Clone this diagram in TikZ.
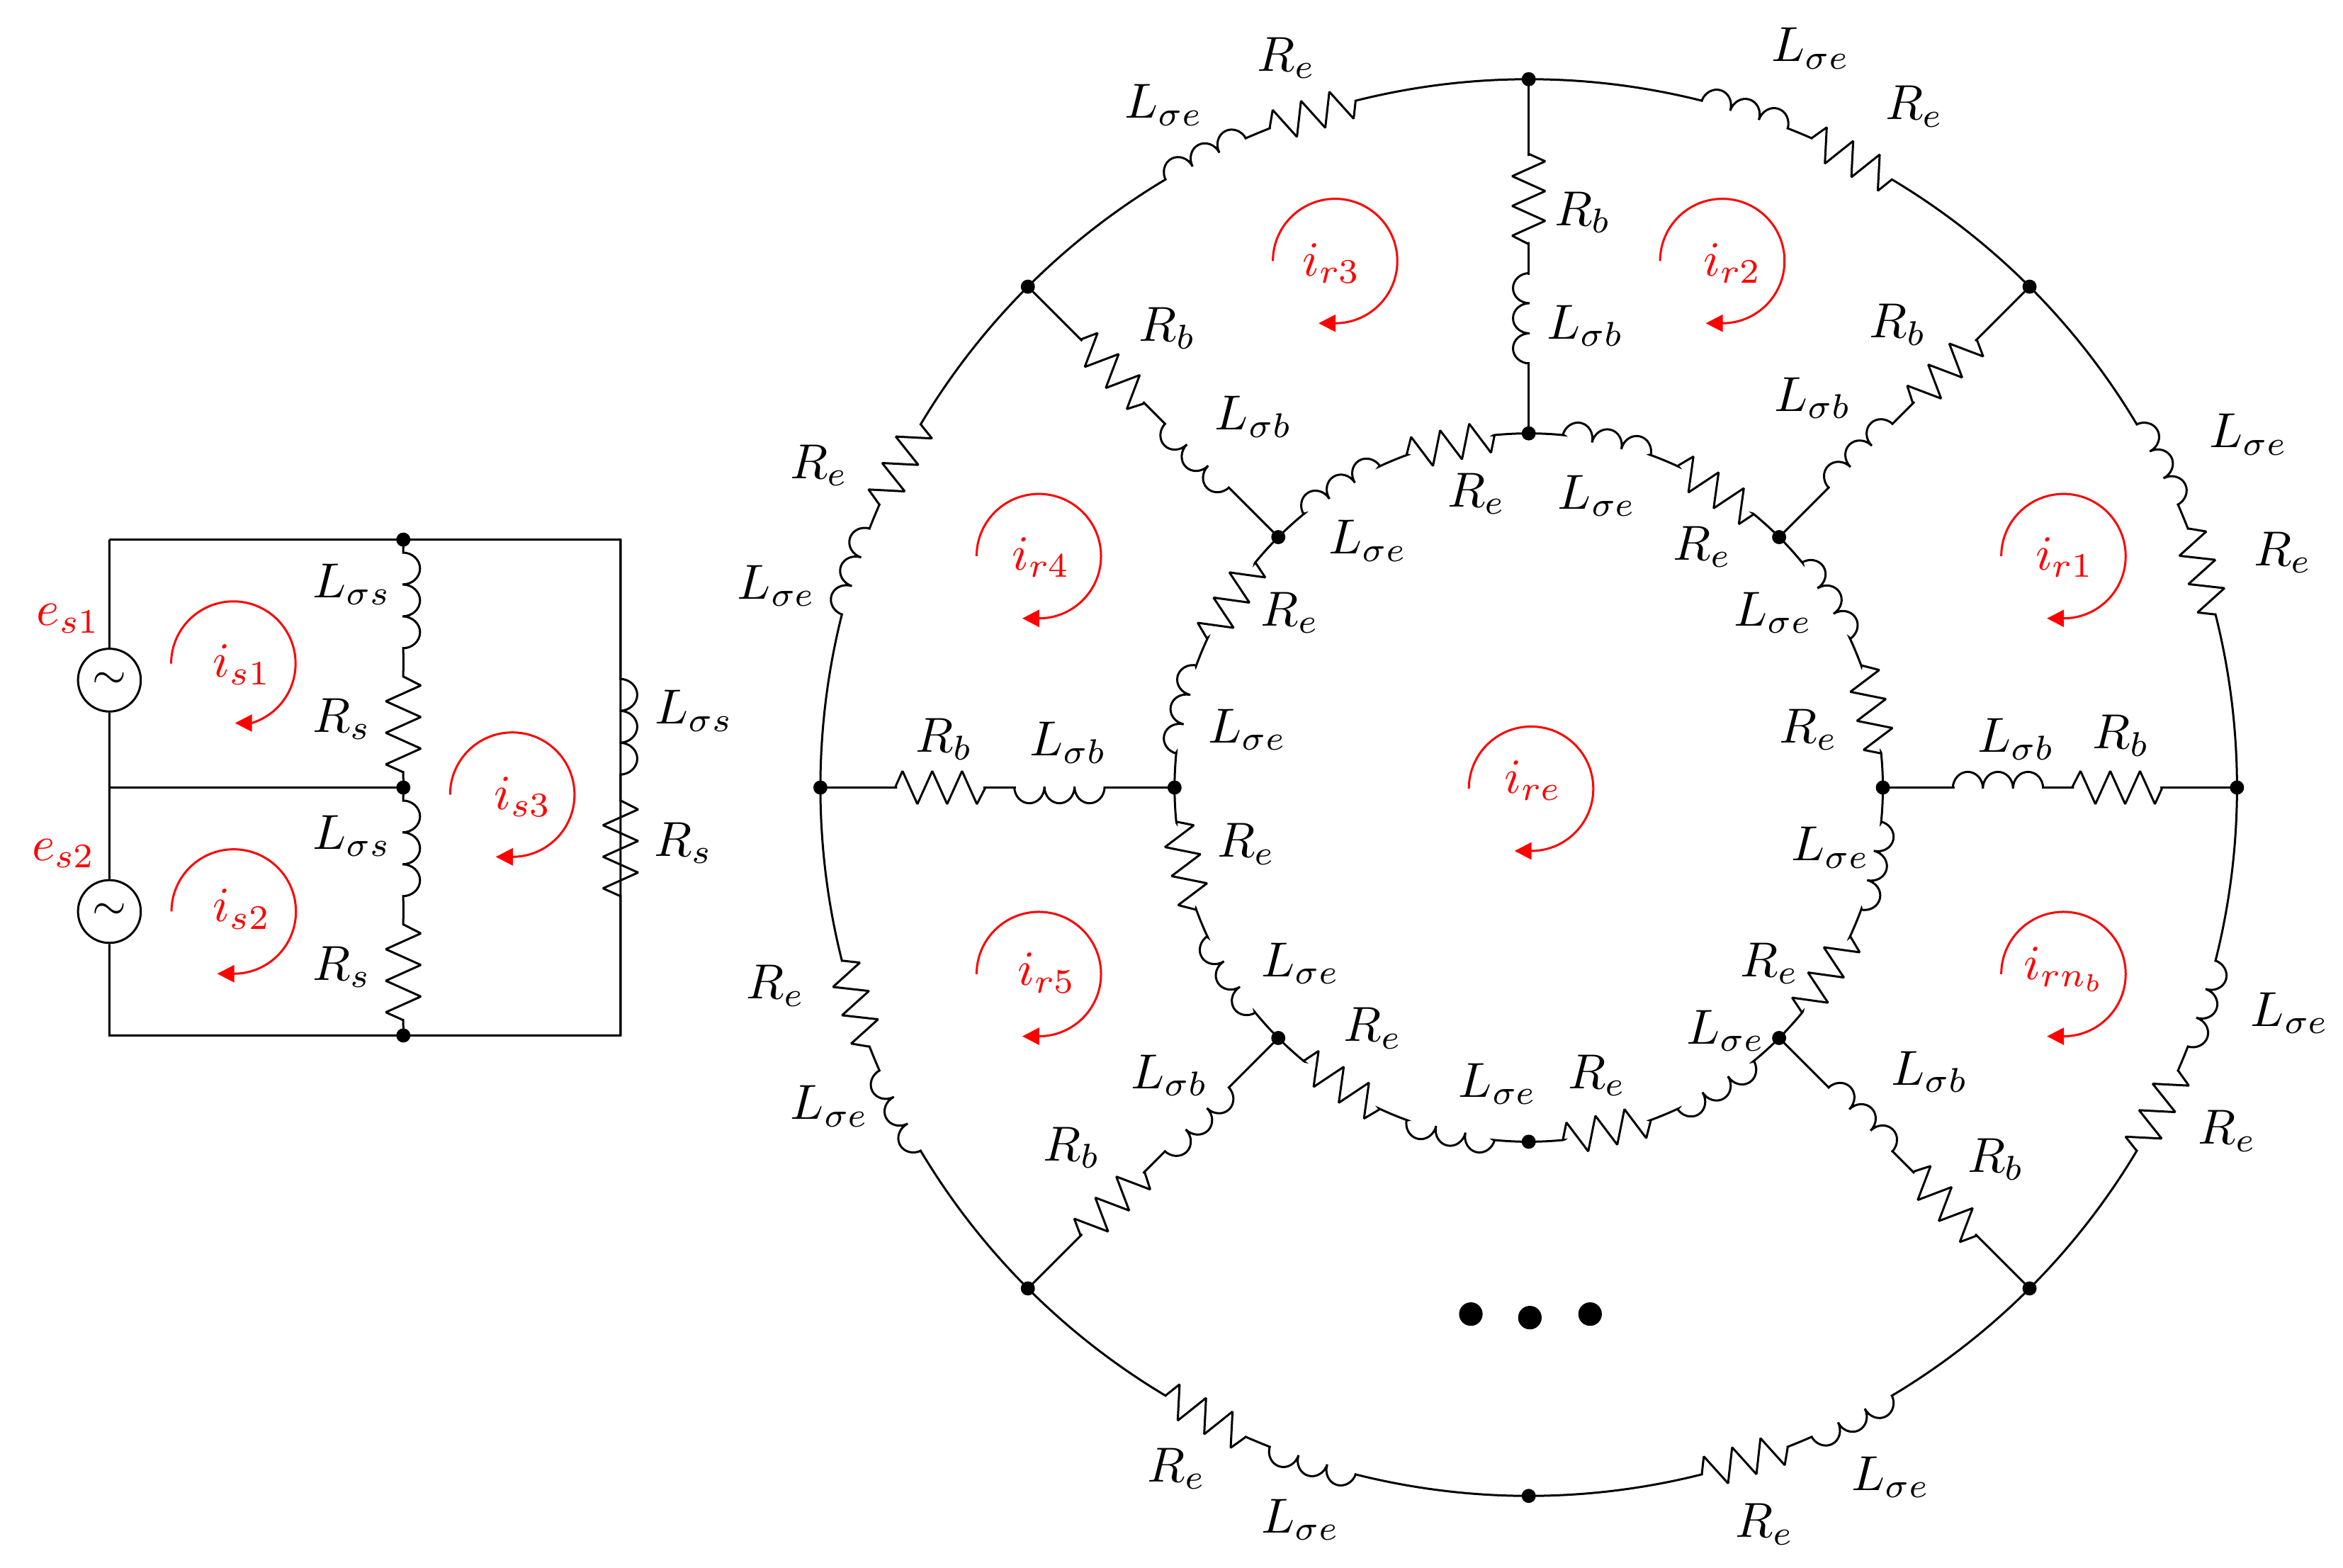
\documentclass[tikz,border=0pt]{standalone}
\usepackage[american]{circuitikz}
\usepackage{amsmath, amssymb}
\usetikzlibrary{arrows.meta}
\ctikzset{bipoles/length=.82cm, inductors/coils=3, bipoles/thickness=1}
\tikzset{
	loopcur/.style={red, -{Triangle[length=3.6pt,width=3.6pt]}},
	srcnode/.style={draw, circle, inner sep=0pt, minimum size=.467cm, font=\small},
	smalldot/.style={circle, fill=black, inner sep=0pt, minimum size=.105cm},
	bigdot/.style={circle, fill=black, inner sep=0pt, minimum size=.175cm},
	lbl/.style={scale=1.04}
}

\begin{document}
\begin{tikzpicture}[scale=.8778, line width=.45pt]
	\useasboundingbox (-12.95,-6.608) rectangle (6.898,6.671);

	% rotor
	\foreach \a in {0,45,...,315} {
		\coordinate (o\a) at (\a:6);
		\coordinate (i\a) at (\a:3);
	}
	\foreach \a in {0,45,...,315} {
		\foreach \r/\p/\q/\s/\t/\n in {6/14.2/21.4/23.6/30.8/o, 3/5.7/20/25/39.3/i} {
			\draw (\n\a) arc[start angle=\a, end angle=\a-\p, radius=\r]
				to[L] (\a-\q:\r) arc[start angle=\a-\q, end angle=\a-\s, radius=\r]
				to[R] (\a-\t:\r) arc[start angle=\a-\t, end angle=\a-45, radius=\r];
		}
	}
	\foreach \a in {0,45,90,135,180,225,315} {
		\draw (i\a) -- (\a:3.6) to[L] (\a:4.35) -- (\a:4.62) to[R] (\a:5.35) -- (o\a);
	}
	\foreach \a in {0,45,...,315} {
		\node[smalldot] (do\a) at (o\a) {};
		\node[smalldot] (di\a) at (i\a) {};
	}
	\node[bigdot] (m1) at (-.49,-4.46) {};
	\node[bigdot] (m2) at (.01,-4.49) {};
	\node[bigdot] (m3) at (.52,-4.46) {};

	% stator
	\ctikzset{bipoles/length=.87cm}
	\coordinate (tl) at (-12.023,2.1);
	\coordinate (tm) at (-9.533,2.1);
	\coordinate (tr) at (-7.693,2.1);
	\coordinate (cl) at (-12.023,0);
	\coordinate (cm) at (-9.533,0);
	\coordinate (bl) at (-12.023,-2.1);
	\coordinate (bm) at (-9.533,-2.1);
	\coordinate (br) at (-7.693,-2.1);
	\node[srcnode] (es1) at (-12.023,.91) {$\sim$};
	\node[srcnode] (es2) at (-12.023,-1.05) {$\sim$};
	\draw (tl) -- (es1) -- (cl) -- (es2) -- (bl) -- (br) -- (tr) -- (tl);
	\draw (cl) -- (cm);
	\draw (tm) to[L] ++(0,-1.03) to[R] (cm);
	\draw (cm) to[L] ++(0,-1.03) to[R] (bm);
	\draw (tr) -- ++(0,-1.07) to[L] ++(0,-1.03) to[R] ++(0,-1.03) -- (br);
	\foreach \c in {tm,cm,bm} {
		\node[smalldot] (d\c) at (\c) {};
	}

	% labels
	\foreach \x/\y/\t [count=\n] in {
		2.39/6.26/L_{\sigma e}, 3.27/5.77/R_e, 6.10/2.99/L_{\sigma e}, 6.39/1.99/R_e,
		6.45/-1.91/L_{\sigma e}, 5.92/-2.91/R_e, 3.07/-5.84/L_{\sigma e}, 2.00/-6.24/R_e,
		-1.93/-6.2/L_{\sigma e}, -2.98/-5.77/R_e, -5.92/-2.70/L_{\sigma e}, -6.38/-1.68/R_e,
		-6.37/1.71/L_{\sigma e}, -6.01/2.73/R_e, -3.09/5.78/L_{\sigma e}, -2.05/6.18/R_e,
		.58/2.47/L_{\sigma e}, 1.47/2.04/R_e, 2.07/1.48/L_{\sigma e}, 2.37/.49/R_e,
		2.56/-.51/L_{\sigma e}, 2.04/-1.49/R_e, 1.67/-2.06/L_{\sigma e}, .58/-2.44/R_e,
		-.26/-2.51/L_{\sigma e}, -1.32/-2.04/R_e, -1.93/-1.49/L_{\sigma e}, -2.39/-.48/R_e,
		-2.38/.49/L_{\sigma e}, -2.02/1.48/R_e, -1.36/2.09/L_{\sigma e}, -.44/2.49/R_e,
		4.13/.41/L_{\sigma b}, 5.02/.44/R_b, 2.41/3.30/L_{\sigma b}, 3.13/3.92/R_b,
		.48/3.91/L_{\sigma b}, .46/4.87/R_b, -2.33/3.14/L_{\sigma b}, -3.06/3.89/R_b,
		-3.9/.38/L_{\sigma b}, -4.95/.41/R_b, -3.04/-2.44/L_{\sigma b}, -3.87/-3.05/R_b,
		3.4/-2.41/L_{\sigma b}, 3.96/-3.15/R_b,
		-9.97/1.72/L_{\sigma s}, -10.05/.58/R_s, -9.97/-.41/L_{\sigma s}, -10.05/-1.52/R_s,
		-7.07/.65/L_{\sigma s}, -7.16/-.47/R_s} {
		\node[lbl] (lbl\n) at (\x,\y) {$\t$};
	}
	\node[lbl, red] (es1lbl) at (-12.37,1.43) {$e_{s1}$};
	\node[lbl, red] (es2lbl) at (-12.41,-.56) {$e_{s2}$};

	% currents
	\foreach \x/\y/\lx/\ly/\t [count=\n] in {
		4.53/1.96/4.54/1.95/i_{r1}, 1.64/4.46/1.73/4.44/i_{r2}, -1.64/4.46/-1.67/4.44/i_{r3},
		-4.15/1.96/-4.13/1.95/i_{r4}, -4.15/-1.58/-4.08/-1.57/i_{r5}, 4.53/-1.58/4.54/-1.54/i_{rn_b},
		.02/-.01/.04/.06/i_{re}, -10.97/-1.05/-10.9/-1.03/i_{s2}, -8.61/-.06/-8.52/-.08/i_{s3}} {
		\draw[loopcur] (\x-.527,\y) arc[start angle=180, end angle=-90, radius=.527] -- ++(-.14,0);
		\node[lbl, red] (cur\n) at (\lx,\ly) {$\t$};
	}
	\draw[loopcur] (-11.5,1.05) arc[start angle=180, end angle=-73, radius=.527] -- ++(-.14,0);
	\node[lbl, red] (curs1) at (-10.9,1.04) {$i_{s1}$};
\end{tikzpicture}
\end{document}
